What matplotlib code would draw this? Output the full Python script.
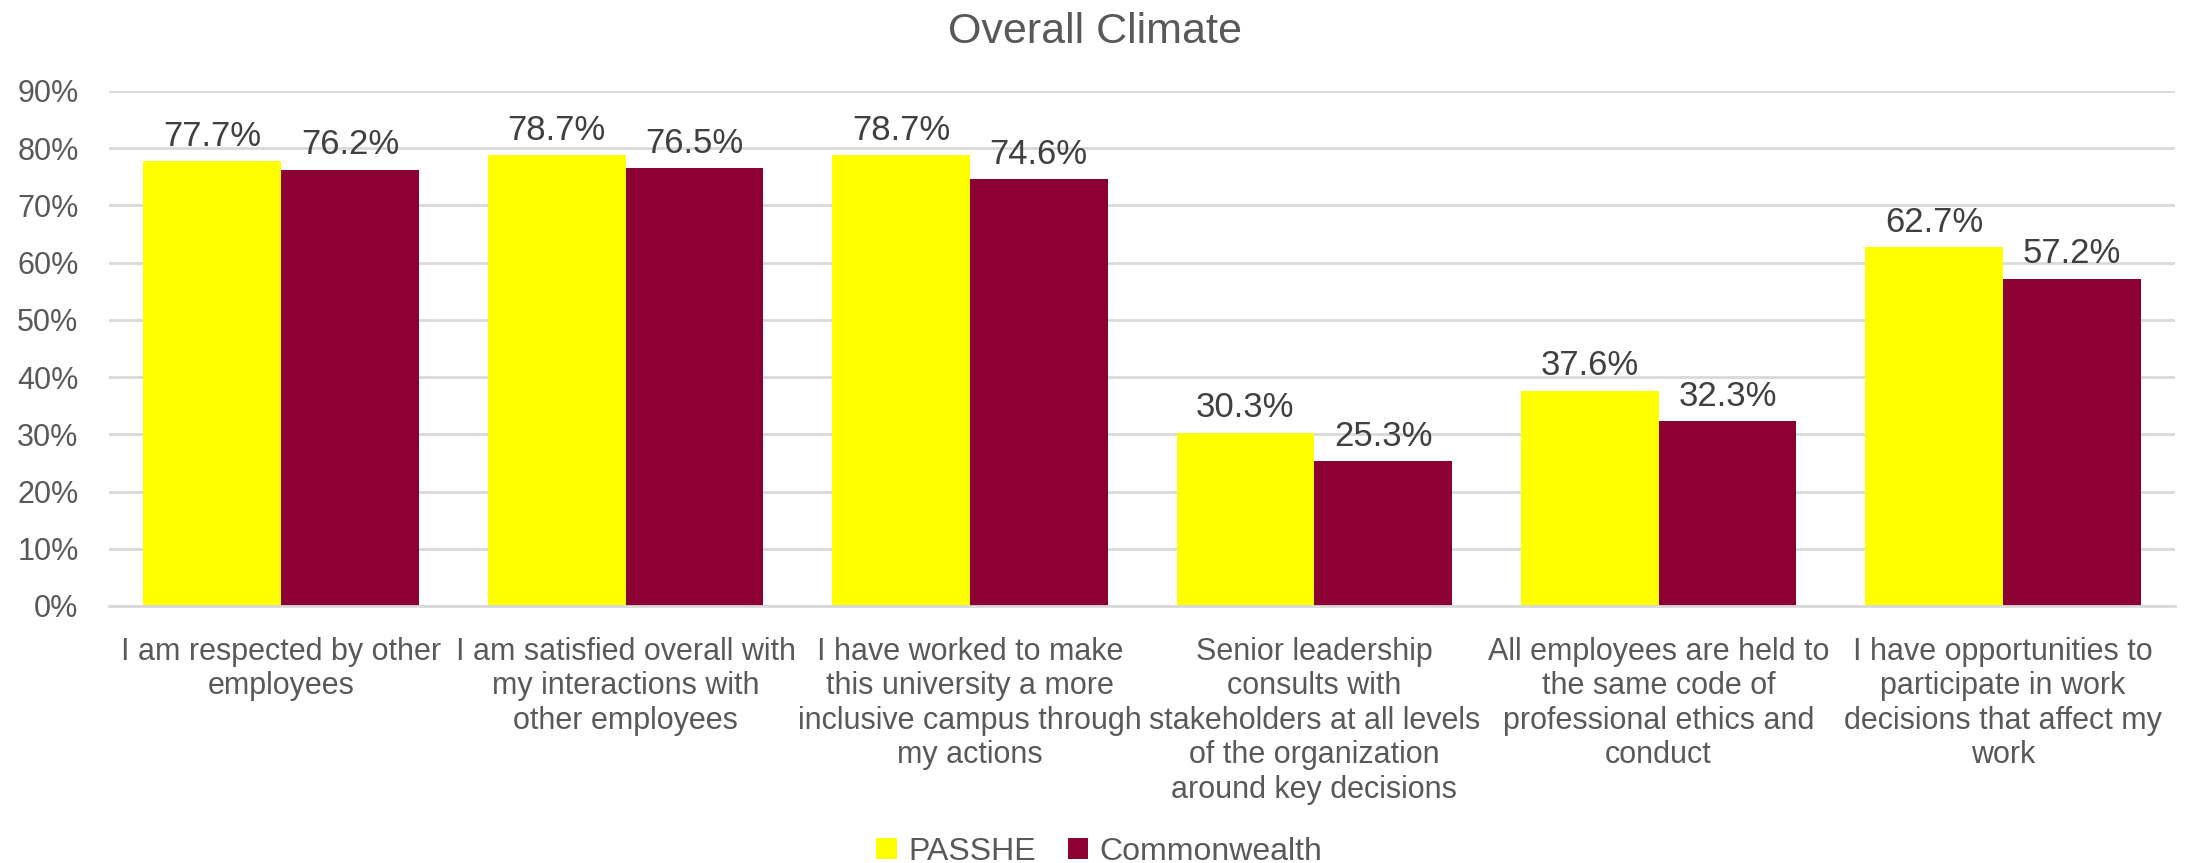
import matplotlib
matplotlib.use("Agg")
import matplotlib.pyplot as plt
from matplotlib.ticker import PercentFormatter, MultipleLocator
import numpy as np

categories = [
    "I am respected by other\nemployees",
    "I am satisfied overall with\nmy interactions with\nother employees",
    "I have worked to make\nthis university a more\ninclusive campus through\nmy actions",
    "Senior leadership\nconsults with\nstakeholders at all levels\nof the organization\naround key decisions",
    "All employees are held to\nthe same code of\nprofessional ethics and\nconduct",
    "I have opportunities to\nparticipate in work\ndecisions that affect my\nwork",
]
passhe = [77.7, 78.7, 78.7, 30.3, 37.6, 62.7]
commonwealth = [76.2, 76.5, 74.6, 25.3, 32.3, 57.2]
series_names = ["PASSHE", "Commonwealth"]

YELLOW = "#FFFF00"
MAROON = "#8C0034"
GREY_TXT = "#595959"
GRID = "#D9D9D9"

label_font = ["Liberation Sans", "DejaVu Sans"]
value_font = ["Liberation Sans", "DejaVu Sans"]

fig = plt.figure(figsize=(21.9, 8.63), dpi=100)
ax = fig.add_axes([0.0498, 0.2978, 0.9434, 0.597])

x = np.arange(len(categories))
w = 0.4
b1 = ax.bar(x - w / 2, passhe, w, color=YELLOW, label=series_names[0], zorder=2)
b2 = ax.bar(x + w / 2, commonwealth, w, color=MAROON, label=series_names[1], zorder=2)

# value labels above each bar
for bars, vals in [(b1, passhe), (b2, commonwealth)]:
    for bar, v in zip(bars, vals):
        ax.annotate(f"{v:.1f}%", (bar.get_x() + bar.get_width() / 2, v),
                    xytext=(0, 6), textcoords="offset points",
                    ha="center", va="bottom", fontsize=25,
                    color="#404040", family=value_font)

ax.set_xlim(-0.5, len(categories) - 0.5)
ax.set_ylim(0, 90)
ax.yaxis.set_major_locator(MultipleLocator(10))
ax.yaxis.set_major_formatter(PercentFormatter(decimals=0))
ax.grid(axis="y", color=GRID, linewidth=2, zorder=0)
for s in ["top", "right", "left"]:
    ax.spines[s].set_visible(False)
ax.spines["bottom"].set_color(GRID)
ax.spines["bottom"].set_linewidth(2)
ax.set_xticks(x)
ax.set_xticklabels(categories, family=label_font, fontsize=22,
                   color=GREY_TXT, linespacing=1.2)
for t in ax.get_yticklabels():
    t.set_family(label_font)
ax.tick_params(axis="y", length=0, labelsize=22, labelcolor=GREY_TXT, pad=22)
ax.tick_params(axis="x", length=0, pad=22)

fig.text(0.5, 0.963, "Overall Climate", fontsize=31, color=GREY_TXT,
         family=label_font, ha="center", va="center")

leg = fig.legend(loc="lower center", bbox_to_anchor=(0.502, -0.038), ncol=2,
                 frameon=False, handlelength=0.65, handleheight=0.65,
                 handletextpad=0.35, columnspacing=1.0,
                 prop={"family": label_font, "size": 23})
for t in leg.get_texts():
    t.set_color(GREY_TXT)

fig.savefig("out.png", dpi=100)
